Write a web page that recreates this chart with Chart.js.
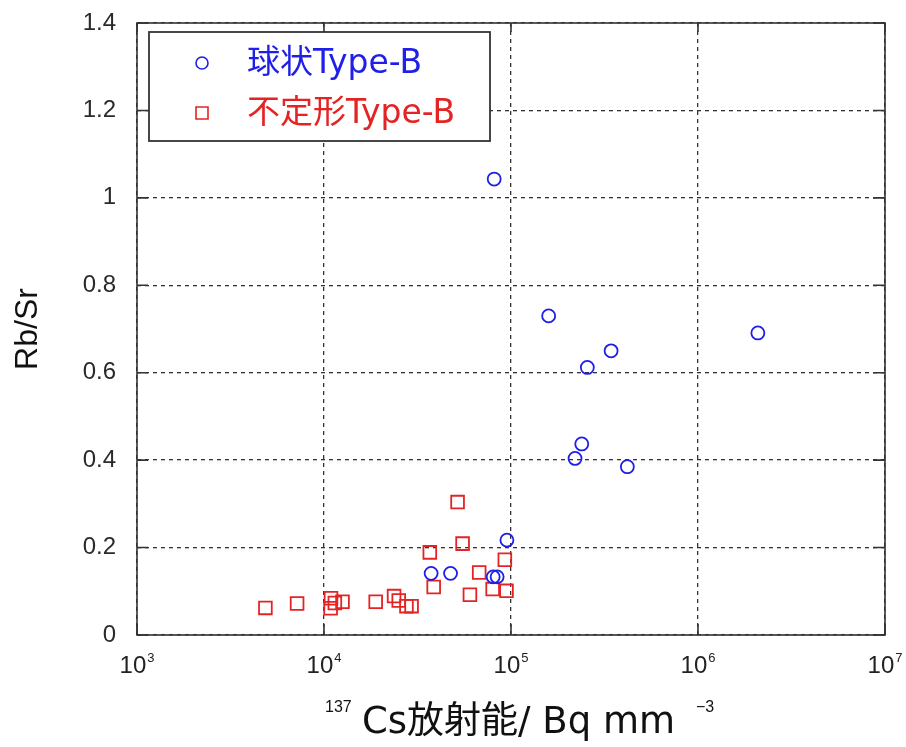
<!DOCTYPE html>
<html>
<head>
<meta charset="utf-8">
<script src="https://cdn.jsdelivr.net/npm/chart.js@4.4.1/dist/chart.umd.min.js"></script>
<style>
  html, body { margin: 0; padding: 0; background: #fff; }
  #wrap { width: 906px; height: 747px; }
</style>
</head>
<body>
<div id="wrap"><canvas id="rbsrChart" width="906" height="747"></canvas></div>
<script>
// 球状Type-B : 137Cs activity (Bq mm-3) and Rb/Sr
const sphereCs   = [81300, 159000, 343000, 256000, 239000, 220000, 419000, 2090000, 95100, 37400, 47500, 80300, 84300];
const sphereRbSr = [1.043, 0.730, 0.650, 0.612, 0.437, 0.404, 0.385, 0.691, 0.217, 0.141, 0.141, 0.133, 0.133];

// 不定形Type-B
const irregCs   = [4860, 7180, 10900, 10850, 12560, 11430, 18900, 23700, 25100, 27600, 29400, 36800, 38600, 51800, 55100, 60300, 67600, 79800, 92700, 94600];
const irregRbSr = [0.062, 0.072, 0.084, 0.061, 0.076, 0.073, 0.076, 0.089, 0.079, 0.066, 0.066, 0.189, 0.110, 0.304, 0.209, 0.092, 0.143, 0.105, 0.172, 0.101];

const seriesNames = ['球状Type-B', '不定形Type-B'];
const xTicks = [1e3, 1e4, 1e5, 1e6, 1e7];
const xTickExp = ['3', '4', '5', '6', '7'];
const yTicks = [0, 0.2, 0.4, 0.6, 0.8, 1, 1.2, 1.4];

const blue = '#1f1fe8';
const red = '#e42424';
const latinFont = '"DejaVu Sans", "Noto Sans CJK JP", sans-serif';

const toPoints = (xs, ys) => xs.map((x, i) => ({ x: x, y: ys[i] }));

// frame, inward ticks, legend box and the superscript labels
const decorations = {
  id: 'decorations',
  afterDraw(chart) {
    const ctx = chart.ctx;
    const a = chart.chartArea;
    const xs = chart.scales.x, ys = chart.scales.y;
    ctx.save();

    // plot frame
    ctx.strokeStyle = '#333';
    ctx.lineWidth = 1.6;
    ctx.strokeRect(a.left, a.top, a.right - a.left, a.bottom - a.top);

    // inward ticks
    ctx.beginPath();
    xTicks.forEach(v => {
      const px = xs.getPixelForValue(v);
      ctx.moveTo(px, a.bottom); ctx.lineTo(px, a.bottom - 11);
      ctx.moveTo(px, a.top); ctx.lineTo(px, a.top + 9);
    });
    yTicks.forEach(v => {
      const py = ys.getPixelForValue(v);
      ctx.moveTo(a.left, py); ctx.lineTo(a.left + 11, py);
      ctx.moveTo(a.right, py); ctx.lineTo(a.right - 12, py);
    });
    ctx.stroke();

    // x tick labels 10^n
    ctx.fillStyle = '#222';
    ctx.textBaseline = 'alphabetic';
    ctx.textAlign = 'left';
    xTicks.forEach((v, i) => {
      const px = xs.getPixelForValue(v);
      ctx.font = '24px "Liberation Sans", sans-serif';
      const wBase = ctx.measureText('10').width;
      ctx.font = '13px "Liberation Sans", sans-serif';
      const wExp = ctx.measureText(xTickExp[i]).width;
      const x0 = px - (wBase + wExp + 1) / 2;
      ctx.font = '24px "Liberation Sans", sans-serif';
      ctx.fillText('10', x0, a.bottom + 38);
      ctx.font = '13px "Liberation Sans", sans-serif';
      ctx.fillText(xTickExp[i], x0 + wBase + 1, a.bottom + 27);
    });

    // x axis title with superscripts
    ctx.fillStyle = '#111';
    ctx.font = '16px "Liberation Sans", sans-serif';
    ctx.fillText('137', 325, 712);
    ctx.font = '37px ' + latinFont;
    ctx.fillText('Cs放射能/ Bq mm', 362, 733);
    ctx.font = '16px "Liberation Sans", sans-serif';
    ctx.fillText('\u22123', 696, 712);

    // legend box
    const lb = { x: 149, y: 32, w: 341, h: 109 };
    ctx.fillStyle = '#fff';
    ctx.fillRect(lb.x, lb.y, lb.w, lb.h);
    ctx.strokeStyle = '#333';
    ctx.lineWidth = 1.8;
    ctx.strokeRect(lb.x, lb.y, lb.w, lb.h);

    const rows = [63, 113];
    chart.data.datasets.forEach((ds, i) => {
      const cy = rows[i];
      ctx.strokeStyle = ds.borderColor;
      ctx.lineWidth = 1.6;
      ctx.beginPath();
      if (ds.pointStyle === 'circle') {
        ctx.arc(202, cy, 6, 0, Math.PI * 2);
      } else {
        ctx.rect(196, cy - 6, 12, 12);
      }
      ctx.stroke();
      ctx.fillStyle = ds.borderColor;
      ctx.font = '33px ' + latinFont;
      ctx.textBaseline = 'middle';
      ctx.fillText(ds.label, 247, cy + 1);
    });

    ctx.restore();
  }
};

const ctx = document.getElementById('rbsrChart').getContext('2d');
const rbsrChart = new Chart(ctx, {
  type: 'scatter',
  data: {
    datasets: [{
      label: seriesNames[0],
      data: toPoints(sphereCs, sphereRbSr),
      pointStyle: 'circle',
      pointRadius: 6.5,
      borderColor: blue,
      backgroundColor: 'rgba(0,0,0,0)',
      borderWidth: 1.8
    }, {
      label: seriesNames[1],
      data: toPoints(irregCs, irregRbSr),
      pointStyle: 'rect',
      pointRadius: 9,
      borderColor: red,
      backgroundColor: 'rgba(0,0,0,0)',
      borderWidth: 1.8
    }]
  },
  options: {
    responsive: false,
    animation: false,
    devicePixelRatio: 1,
    layout: { padding: { top: 23, right: 21, left: 0, bottom: 0 } },
    plugins: {
      legend: { display: false },
      tooltip: { enabled: false }
    },
    scales: {
      x: {
        type: 'logarithmic',
        min: 1e3,
        max: 1e7,
        afterBuildTicks: scale => { scale.ticks = xTicks.map(v => ({ value: v })); },
        afterFit: scale => { scale.height = 112; scale.paddingLeft = 0; scale.paddingRight = 0; },
        ticks: { display: false },
        grid: { color: '#333', lineWidth: 1.3, drawTicks: false },
        border: { display: false, dash: [4, 4] }
      },
      y: {
        min: 0,
        max: 1.4,
        afterBuildTicks: scale => { scale.ticks = yTicks.map(v => ({ value: v })); },
        afterFit: scale => { scale.width = 137; scale.paddingTop = 0; scale.paddingBottom = 0; },
        ticks: {
          padding: 21,
          color: '#2a2a2a',
          font: { family: '"Liberation Sans", sans-serif', size: 24 },
          callback: v => String(Number(v.toFixed(1)))
        },
        grid: { color: '#333', lineWidth: 1.3, drawTicks: false },
        border: { display: false, dash: [4, 4] },
        title: {
          display: true,
          text: 'Rb/Sr',
          color: '#111',
          padding: { top: 9 },
          font: { family: '"Liberation Sans", sans-serif', size: 32 }
        }
      }
    }
  },
  plugins: [decorations]
});
</script>
</body>
</html>
